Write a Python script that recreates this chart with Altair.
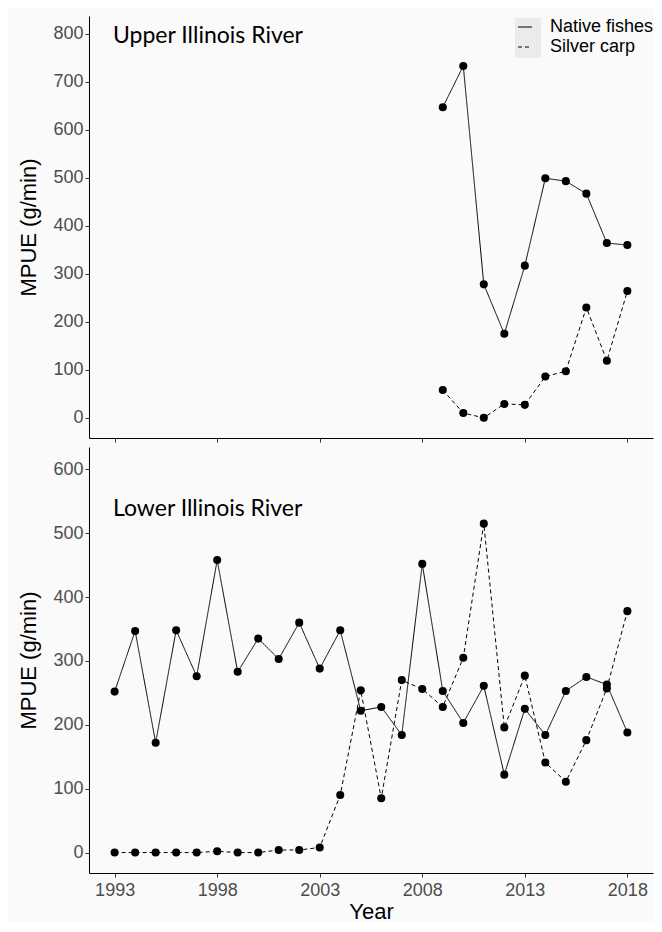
import altair as alt
import pandas as pd

# ---- data ----
years_upper = [2009, 2010, 2011, 2012, 2013, 2014, 2015, 2016, 2017, 2018]
native_upper = [647, 733, 278, 175, 317, 499, 493, 467, 364, 360]
silver_upper = [58, 10, 0, 29, 27, 86, 97, 230, 119, 264]

years_lower = list(range(1993, 2019))
native_lower = [252, 347, 172, 348, 276, 458, 283, 335, 303, 360, 288, 348, 222,
                228, 184, 452, 253, 203, 261, 122, 225, 184, 253, 275, 263, 188]
silver_lower = [0, 0, 0, 0, 0, 2, 0, 0, 4, 4, 8, 90, 254,
                85, 270, 256, 228, 305, 515, 196, 277, 141, 111, 176, 257, 378]

groups = ["Native fishes", "Silver carp"]
year_ticks = [1993, 1998, 2003, 2008, 2013, 2018]


def long_df(years, native, silver):
    rows = []
    for y, v in zip(years, native):
        rows.append({"Year": y, "MPUE": v, "Group": groups[0]})
    for y, v in zip(years, silver):
        rows.append({"Year": y, "MPUE": v, "Group": groups[1]})
    return pd.DataFrame(rows)


df_up = long_df(years_upper, native_upper, silver_upper)
df_lo = long_df(years_lower, native_lower, silver_lower)

LABEL_FONT = "Liberation Sans"
W = 564

x_scale = alt.Scale(domain=[1991.75, 2019.25], nice=False, zero=False)
dash_scale = alt.Scale(domain=groups, range=[[1, 0], [4, 3]])


def panel(df, title, y_domain, y_ticks, height, show_x_labels, show_legend, title_y):
    x_axis = alt.Axis(
        values=year_ticks, format="d", grid=False,
        labels=show_x_labels, title="Year" if show_x_labels else None,
        tickSize=4, labelPadding=4, titlePadding=2,
    )
    y_axis = alt.Axis(values=y_ticks, grid=False, title="MPUE (g/min)",
                      tickSize=4, labelPadding=2, titlePadding=12)
    x = alt.X("Year:Q", scale=x_scale, axis=x_axis)
    y = alt.Y("MPUE:Q", scale=alt.Scale(domain=y_domain, nice=False, zero=False), axis=y_axis)

    if show_legend:
        legend = alt.Legend(
            title=None, orient="none", legendX=427, legendY=2,
            symbolType="stroke", symbolSize=196, symbolStrokeWidth=1,
            symbolStrokeColor="black", labelFont=LABEL_FONT, labelFontSize=18,
            labelColor="black", labelOffset=16, rowPadding=2, padding=0,
        )
    else:
        legend = None

    lines = alt.Chart(df).mark_line(color="black", strokeWidth=1).encode(
        x=x, y=y,
        strokeDash=alt.StrokeDash("Group:N", scale=dash_scale, legend=legend),
        detail="Group:N",
    )
    points = alt.Chart(df).mark_circle(color="black", opacity=1, size=65).encode(
        x=x, y=y, detail="Group:N"
    )
    label = alt.Chart(alt.Data(values=[{"t": title}])).mark_text(
        align="left", baseline="middle", font="Lato", fontSize=23, color="black"
    ).encode(x=alt.value(24), y=alt.value(title_y), text="t:N")

    layers = []
    if show_legend:
        keybg = alt.Chart(alt.Data(values=[{}])).mark_rect(color="#ebebeb").encode(
            x=alt.value(426), x2=alt.value(452), y=alt.value(2), y2=alt.value(42)
        )
        layers.append(keybg)
    layers += [lines, points, label]
    return alt.layer(*layers).properties(width=W, height=height)


top = panel(df_up, "Upper Illinois River", [-42, 837], list(range(0, 801, 100)),
            422, False, True, 20)
bottom = panel(df_lo, "Lower Illinois River", [-32, 635], list(range(0, 601, 100)),
               426, True, False, 62)

chart = alt.vconcat(top, bottom, spacing=4).resolve_scale(
    strokeDash="independent"
).resolve_legend(strokeDash="independent").properties(
    background="#fafafa", padding={"left": 9, "top": 8, "right": 0, "bottom": 0}
).configure_view(stroke=None).configure_axis(
    domainColor="black", domainWidth=1, tickColor="#333333", tickWidth=1,
    labelFont=LABEL_FONT, labelFontSize=18, labelColor="#4d4d4d",
    titleFont=LABEL_FONT, titleFontSize=22, titleColor="black", titleFontWeight="normal",
)

chart.save("out.html", embed_options={"renderer": "svg", "actions": False})
